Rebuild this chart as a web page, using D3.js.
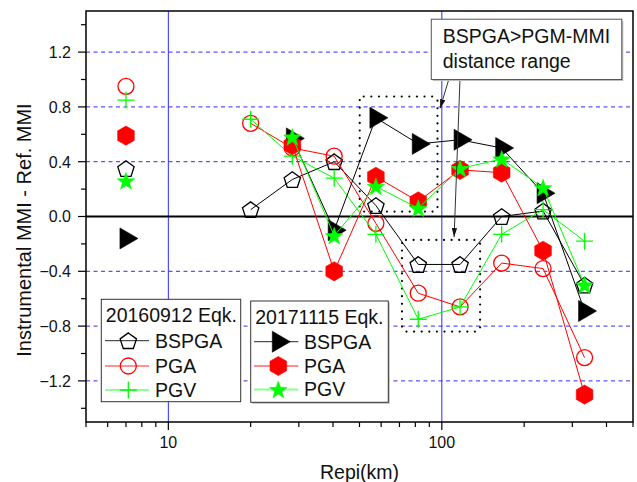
<!DOCTYPE html>
<html>
<head>
<meta charset="utf-8">
<script src="https://cdn.jsdelivr.net/npm/d3@7"></script>
<style>
  html, body { margin: 0; padding: 0; background: #fff; }
  svg { display: block; font-family: "Liberation Sans", Arial, sans-serif; }
</style>
</head>
<body>
<svg id="chart" width="637" height="482"></svg>
<script>
// ---- Data -------------------------------------------------------------
// Epicentral distance bins (km); the nearest station is plotted on its own
const nearDistance = 7;
const distances = [20, 28.4, 40.4, 57.4, 82, 116.6, 165.5, 234.5, 332.6];

// 20160912 earthquake: instrumental MMI minus reference MMI
const eq2016BSPGA = [0.05, 0.27, 0.40, 0.08, -0.35, -0.35, 0.00, 0.04, -0.50];
const eq2016PGA   = [0.68, 0.50, 0.44, -0.05, -0.56, -0.66, -0.34, -0.38, -1.03];
const eq2016PGV   = [0.71, 0.44, 0.28, -0.13, -0.75, -0.66, -0.13, 0.05, -0.18];
const eq2016Near  = [0.35, 0.95, 0.85];   // BSPGA, PGA, PGV at 7 km

// 20171115 earthquake
const eq2017BSPGA = [null, 0.57, -0.10, 0.72, 0.53, 0.56, 0.50, 0.17, -0.69];
const eq2017PGA   = [null, 0.52, -0.40, 0.29, 0.11, 0.34, 0.32, -0.25, -1.30];
const eq2017PGV   = [null, 0.58, -0.14, 0.22, 0.06, 0.35, 0.42, 0.21, -0.50];
const eq2017Near  = [-0.16, 0.59, 0.26]; // BSPGA, PGA, PGV at 7 km

const yMajorTicks = [-1.2, -0.8, -0.4, 0.0, 0.4, 0.8, 1.2];
const xLabelTicks = [10, 100];
const legendTitles = ["20160912 Eqk.", "20171115 Eqk."];
const measureNames = ["BSPGA", "PGA", "PGV"];

// Distance ranges where BSPGA exceeds the PGM-based MMI (km, MMI difference)
const highlightRanges = [
  { x0: 50.1, x1: 96.4, y0: 0.036, y1: 0.876 },
  { x0: 71.5, x1: 138, y0: -0.84, y1: -0.171 }
];
const noteLines = ["BSPGA>PGM-MMI", "distance range"];

// ---- Layout -----------------------------------------------------------
const W = 637, H = 482;
const plot = { left: 86, right: 633, top: 11, bottom: 422 };
const svg = d3.select("#chart");

const x = d3.scaleLog().domain([5, 500]).range([plot.left, plot.right]);
const y = d3.scaleLinear().domain([-1.5, 1.5]).range([plot.bottom, plot.top]);

const RED = "#ff0000", GREEN = "#00ff00", BLACK = "#000000", BLUE = "#2b2bff";

// ---- Marker shapes ----------------------------------------------------
function polygon(pts) { return "M" + pts.map(p => p[0].toFixed(2) + "," + p[1].toFixed(2)).join("L") + "Z"; }
const shapes = {
  pentagon: () => {
    const r = 8.6, dy = 0.0955 * r, pts = [];
    for (let i = 0; i < 5; i++) {
      const a = -Math.PI / 2 + i * 2 * Math.PI / 5;
      pts.push([r * Math.cos(a), r * Math.sin(a) + dy]);
    }
    return polygon(pts);
  },
  hexagon: () => {
    const r = 9.6, pts = [];
    for (let i = 0; i < 6; i++) {
      const a = -Math.PI / 2 + i * Math.PI / 3;
      pts.push([r * Math.cos(a), r * Math.sin(a)]);
    }
    return polygon(pts);
  },
  star: () => {
    const ro = 9.2, ri = 3.7, pts = [];
    for (let i = 0; i < 10; i++) {
      const a = -Math.PI / 2 + i * Math.PI / 5, r = i % 2 ? ri : ro;
      pts.push([r * Math.cos(a), r * Math.sin(a) + 0.8]);
    }
    return polygon(pts);
  },
  triangle: () => polygon([[-6, -10.5], [12, 0], [-6, 10.5]]),
  circle: () => "M8,0A8,8 0 1,1 -8,0A8,8 0 1,1 8,0Z",
  plus: () => "M-8.5,0H8.5M0,-8.5V8.5"
};

const series = [
  { group: 0, name: "BSPGA", values: eq2016BSPGA, near: eq2016Near[0], shape: "pentagon", color: BLACK, filled: false },
  { group: 0, name: "PGA",   values: eq2016PGA,   near: eq2016Near[1], shape: "circle",   color: RED,   filled: false },
  { group: 0, name: "PGV",   values: eq2016PGV,   near: eq2016Near[2], shape: "plus",     color: GREEN, filled: false },
  { group: 1, name: "BSPGA", values: eq2017BSPGA, near: eq2017Near[0], shape: "triangle", color: BLACK, filled: true },
  { group: 1, name: "PGA",   values: eq2017PGA,   near: eq2017Near[1], shape: "hexagon",  color: RED,   filled: true },
  { group: 1, name: "PGV",   values: eq2017PGV,   near: eq2017Near[2], shape: "star",     color: GREEN, filled: true }
];

function drawMarker(g, s, px, py) {
  const p = g.append("path").attr("d", shapes[s.shape]())
    .attr("transform", `translate(${px},${py})`);
  if (s.filled) p.attr("fill", s.color).attr("stroke", s.color).attr("stroke-width", 0.6);
  else p.attr("fill", "none").attr("stroke", s.color).attr("stroke-width", 1.3);
  return p;
}

// ---- Grid ---------------------------------------------------------------
const grid = svg.append("g");
grid.selectAll("line.h").data(yMajorTicks.filter(v => v !== 0)).join("line")
  .attr("x1", plot.left).attr("x2", plot.right)
  .attr("y1", d => y(d)).attr("y2", d => y(d))
  .attr("stroke", BLUE).attr("stroke-width", 1).attr("stroke-dasharray", "4,3.5");
grid.selectAll("line.v").data(xLabelTicks).join("line")
  .attr("x1", d => x(d)).attr("x2", d => x(d))
  .attr("y1", plot.top).attr("y2", plot.bottom)
  .attr("stroke", BLUE).attr("stroke-width", 1);

// Zero reference line
svg.append("line").attr("x1", plot.left).attr("x2", plot.right)
  .attr("y1", y(0)).attr("y2", y(0)).attr("stroke", BLACK).attr("stroke-width", 2);

// ---- Highlighted distance ranges ----------------------------------------
svg.append("g").selectAll("rect").data(highlightRanges).join("rect")
  .attr("x", d => x(d.x0)).attr("y", d => y(d.y1))
  .attr("width", d => x(d.x1) - x(d.x0)).attr("height", d => y(d.y0) - y(d.y1))
  .attr("rx", 4).attr("fill", "none").attr("stroke", BLACK)
  .attr("stroke-width", 2.2).attr("stroke-linecap", "round")
  .attr("stroke-dasharray", "0,7.6");

// ---- Series -------------------------------------------------------------
const line = d3.line()
  .defined(d => d.v !== null)
  .x(d => x(d.d)).y(d => y(d.v));

const dataLayer = svg.append("g");
series.forEach(s => {
  const pts = distances.map((d, i) => ({ d, v: s.values[i] }));
  dataLayer.append("path").datum(pts).attr("d", line)
    .attr("fill", "none").attr("stroke", s.color).attr("stroke-width", 1);
  drawMarker(dataLayer, s, x(nearDistance), y(s.near));
  pts.filter(p => p.v !== null).forEach(p => drawMarker(dataLayer, s, x(p.d), y(p.v)));
});

// ---- Note with arrows ---------------------------------------------------
const defs = svg.append("defs");
defs.append("marker").attr("id", "arrowhead")
  .attr("viewBox", "0 0 10 6").attr("refX", 10).attr("refY", 3)
  .attr("markerWidth", 9).attr("markerHeight", 5.5).attr("markerUnits", "userSpaceOnUse")
  .attr("orient", "auto")
  .append("path").attr("d", "M0,0L10,3L0,6Z").attr("fill", "#111");

const note = { x0: 91.5, x1: 455, y0: 1.0, y1: 1.44 };
const arrows = [
  { from: [106, 1.0], to: [98.6, 0.79] },
  { from: [116.5, 1.0], to: [110.9, -0.15] }
];
svg.append("g").selectAll("line").data(arrows).join("line")
  .attr("x1", d => x(d.from[0])).attr("y1", d => y(d.from[1]))
  .attr("x2", d => x(d.to[0])).attr("y2", d => y(d.to[1]))
  .attr("stroke", "#333").attr("stroke-width", 1)
  .attr("marker-end", "url(#arrowhead)");

const noteG = svg.append("g");
noteG.append("rect")
  .attr("x", x(note.x0) + 1.5).attr("y", y(note.y1) + 1.5)
  .attr("width", x(note.x1) - x(note.x0)).attr("height", y(note.y0) - y(note.y1))
  .attr("fill", "#bdbdbd");
noteG.append("rect")
  .attr("x", x(note.x0)).attr("y", y(note.y1))
  .attr("width", x(note.x1) - x(note.x0)).attr("height", y(note.y0) - y(note.y1))
  .attr("fill", "#fff").attr("stroke", "#555").attr("stroke-width", 1);
noteG.selectAll("text").data(noteLines).join("text")
  .attr("x", x(note.x0) + 11.5).attr("y", (d, i) => y(note.y1) + 24 + i * 25)
  .attr("font-size", 19.5).attr("fill", "#111").text(d => d);

// ---- Axes frame ---------------------------------------------------------
const frame = svg.append("g");
frame.append("rect").attr("x", plot.left).attr("y", plot.top)
  .attr("width", plot.right - plot.left).attr("height", plot.bottom - plot.top)
  .attr("fill", "none").attr("stroke", BLACK).attr("stroke-width", 1.5);

// Y axis ticks and labels
const yMinor = d3.range(-1.4, 1.41, 0.4).map(v => +v.toFixed(1));
frame.selectAll("line.ymin").data(yMinor).join("line")
  .attr("x1", plot.left - 5).attr("x2", plot.left)
  .attr("y1", d => y(d)).attr("y2", d => y(d))
  .attr("stroke", BLACK).attr("stroke-width", 1.2);
frame.selectAll("line.ymaj").data(yMajorTicks).join("line")
  .attr("x1", plot.left - 8).attr("x2", plot.left)
  .attr("y1", d => y(d)).attr("y2", d => y(d))
  .attr("stroke", BLACK).attr("stroke-width", 1.2);
frame.selectAll("text.ylab").data(yMajorTicks).join("text")
  .attr("x", plot.left - 15).attr("y", d => y(d) + 5.8)
  .attr("text-anchor", "end").attr("font-size", 16).attr("fill", "#111")
  .text(d => d3.format(".1f")(d));

// X axis ticks and labels (log scale)
const xMinor = [5, 6, 7, 8, 9, 20, 30, 40, 50, 60, 70, 80, 90, 200, 300, 400, 500];
frame.selectAll("line.xmin").data(xMinor).join("line")
  .attr("x1", d => x(d)).attr("x2", d => x(d))
  .attr("y1", plot.bottom).attr("y2", plot.bottom + 5)
  .attr("stroke", BLACK).attr("stroke-width", 1.2);
frame.selectAll("line.xmaj").data(xLabelTicks).join("line")
  .attr("x1", d => x(d)).attr("x2", d => x(d))
  .attr("y1", plot.bottom).attr("y2", plot.bottom + 8)
  .attr("stroke", BLACK).attr("stroke-width", 1.2);
frame.selectAll("text.xlab").data(xLabelTicks).join("text")
  .attr("x", d => x(d)).attr("y", plot.bottom + 26)
  .attr("text-anchor", "middle").attr("font-size", 16).attr("fill", "#111")
  .text(d => d);

// Axis titles
svg.append("text").attr("x", (plot.left + plot.right) / 2).attr("y", 479)
  .attr("text-anchor", "middle").attr("font-size", 19.5).attr("fill", "#111")
  .text("Repi(km)");
svg.append("text").attr("transform", `translate(31,${230}) rotate(-90)`)
  .attr("text-anchor", "middle").attr("font-size", 20).attr("fill", "#111")
  .text("Instrumental MMI - Ref. MMI");

// ---- Legends ------------------------------------------------------------
const legendBoxes = [
  { x: 101.3, y: 299.3, w: 139.4, h: 102.4, sym: 128.3, lx0: 105, lx1: 149, tx: 155, rows: [340.7, 366, 390], shadow: false },
  { x: 250.7, y: 301, w: 137.6, h: 101.3, sym: 278.3, lx0: 254, lx1: 298.3, tx: 304, rows: [341.7, 366, 389.5], shadow: true }
];
legendBoxes.forEach((b, gi) => {
  const g = svg.append("g");
  if (b.shadow) g.append("rect").attr("x", b.x + 1.5).attr("y", b.y + 1.5)
    .attr("width", b.w).attr("height", b.h).attr("fill", "#bdbdbd");
  g.append("rect").attr("x", b.x).attr("y", b.y).attr("width", b.w).attr("height", b.h)
    .attr("fill", "#fff").attr("stroke", "#333").attr("stroke-width", 1);
  g.append("text").attr("x", b.x + 4.5).attr("y", b.y + 22.5)
    .attr("font-size", 19.5).attr("fill", "#111").text(legendTitles[gi]);
  series.filter(s => s.group === gi).forEach((s, i) => {
    const cy = b.rows[i];
    g.append("line").attr("x1", b.lx0).attr("x2", b.lx1).attr("y1", cy).attr("y2", cy)
      .attr("stroke", s.color).attr("stroke-width", gi === 1 && s.color !== BLACK ? 2 : 1)
      .attr("stroke-opacity", gi === 1 && s.color !== BLACK ? 0.45 : 0.85);
    drawMarker(g, s, b.sym, cy);
    g.append("text").attr("x", b.tx).attr("y", cy + 6.8)
      .attr("font-size", 19.5).attr("fill", "#111").text(measureNames[i]);
  });
});
</script>
</body>
</html>
